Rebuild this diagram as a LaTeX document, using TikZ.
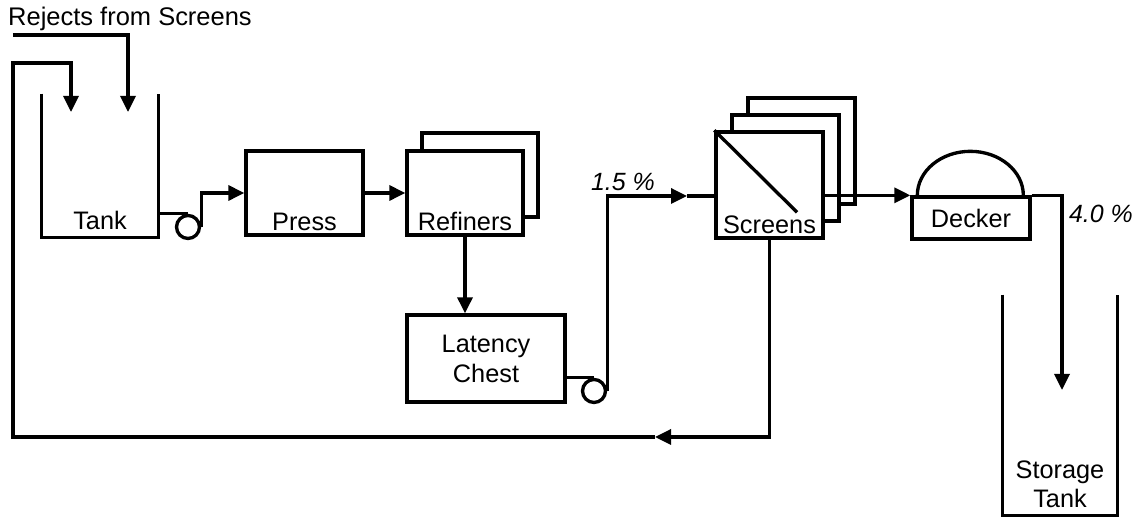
\documentclass[tikz,border=0pt]{standalone}
\usepackage{fontspec}
\setmainfont{Liberation Sans}
\usetikzlibrary{arrows.meta,positioning,calc}

\begin{document}
\begin{tikzpicture}[
  every node/.style={font=\fontsize{14.4}{17}\selectfont},
  unit/.style={rectangle, draw, fill=white, line width=1.9pt, inner sep=0pt},
  vessel/.style={rectangle, inner sep=0pt},
  pump/.style={circle, draw, line width=1.9pt, minimum size=0.46cm, inner sep=0pt},
  line/.style={line width=1.9pt},
  flow/.style={line width=1.9pt, -{Triangle[length=0.32cm, width=0.3cm]}},
  conc/.style={font=\fontsize{14.2}{17}\selectfont\itshape},
]
\useasboundingbox (0,0) rectangle (22.82,10.34);

%% ── Vessels and units ──────────────────────────────────────────────────
\node[vessel, minimum width=2.32cm, minimum height=2.86cm] (tank) at (2.0, 7.03) {};
\node[unit, minimum width=2.34cm, minimum height=1.68cm] (press) at (6.09, 6.48) {};
\node[unit, minimum width=2.32cm, minimum height=1.68cm] (ref2) at (9.60, 6.84) {};
\node[unit, minimum width=2.32cm, minimum height=1.68cm] (ref) at (9.30, 6.48) {};
\node[unit, minimum width=3.16cm, minimum height=1.74cm, align=center] (lat) at (9.72, 3.17) {Latency\\Chest};
\node[unit, minimum width=2.14cm, minimum height=2.12cm] (scr3) at (16.03, 7.32) {};
\node[unit, minimum width=2.14cm, minimum height=2.12cm] (scr2) at (15.71, 6.98) {};
\node[unit, minimum width=2.14cm, minimum height=2.12cm] (scr) at (15.39, 6.64) {};
\node[unit, minimum width=2.36cm, minimum height=0.84cm] (dec) at (19.42, 5.98) {Decker};
\node[vessel, minimum width=2.28cm, minimum height=4.40cm] (stor) at (21.20, 2.24) {};

\draw[line] (tank.north west) |- (tank.south east) -- (tank.north east);
\draw[line] (stor.north west) |- (stor.south east) -- (stor.north east);
\draw[line] (scr.north west) -- ($(scr.north west)!0.75!(scr.south east)$);
\draw[line] ([xshift=0.14cm]dec.north west)
  arc[start angle=180, end angle=0, x radius=1.06cm, y radius=0.88cm];

%% ── Labels ─────────────────────────────────────────────────────────────
\node[above=0.02cm] (tanklbl) at (tank.south) {Tank};
\node[above=0pt] (presslbl) at (press.south) {Press};
\node[above=0pt] (reflbl) at (ref.south) {Refiners};
\node[above=0pt] (scrlbl) at (scr.south) {Screens};
\node[above=0.02cm, align=center] (storlbl) at (stor.south) {Storage\\Tank};
\node[anchor=west, font=\fontsize{14.5}{17}\selectfont] (rejlbl) at (0.04, 9.96) {Rejects from Screens};
\node[conc] (c15) at (12.46, 6.70) {1.5 \%};
\node[conc] (c40) at (22.02, 6.06) {4.0 \%};

%% ── Pumps ──────────────────────────────────────────────────────────────
\node[pump] (p1) at (3.76, 5.80) {};
\node[pump] (p2) at (11.88, 2.52) {};

%% ── Free ends ──────────────────────────────────────────────────────────
\coordinate (rej)  at (0.26, 9.64);
\coordinate (in2)  at (2.56, 8.10);
\coordinate (in1)  at (1.42, 8.10);
\coordinate (loop) at (0.26, 9.08);
\coordinate (ret)  at (13.10, 1.60);
\coordinate (scrin) at (13.74, 6.42);
\coordinate (stin) at (21.24, 2.54);

%% ── Stock flow ─────────────────────────────────────────────────────────
\draw[line] (tank.east |- p1.north) -- (p1.north);
\draw[flow] (p1.east) |- (press.west);
\draw[flow] (press.east) -- (ref.west);
\draw[flow] (ref.south) -- (ref.south |- lat.north);
\draw[line] (lat.east |- p2.north) -- (p2.north);
\draw[flow] (p2.east) |- (scrin);
\draw[line] (scrin) -- (scr.west |- scrin);
\draw[flow] (scr.east |- dec.north west) -- (dec.north west);
\draw[flow] (dec.north east) -| (stin);

%% ── Rejects recycle ────────────────────────────────────────────────────
\draw[flow] (rej) -| (in2);
\draw[flow] (scr.south) |- (ret);
\draw[flow] (ret) -| (loop) -| (in1);

\end{tikzpicture}
\end{document}
